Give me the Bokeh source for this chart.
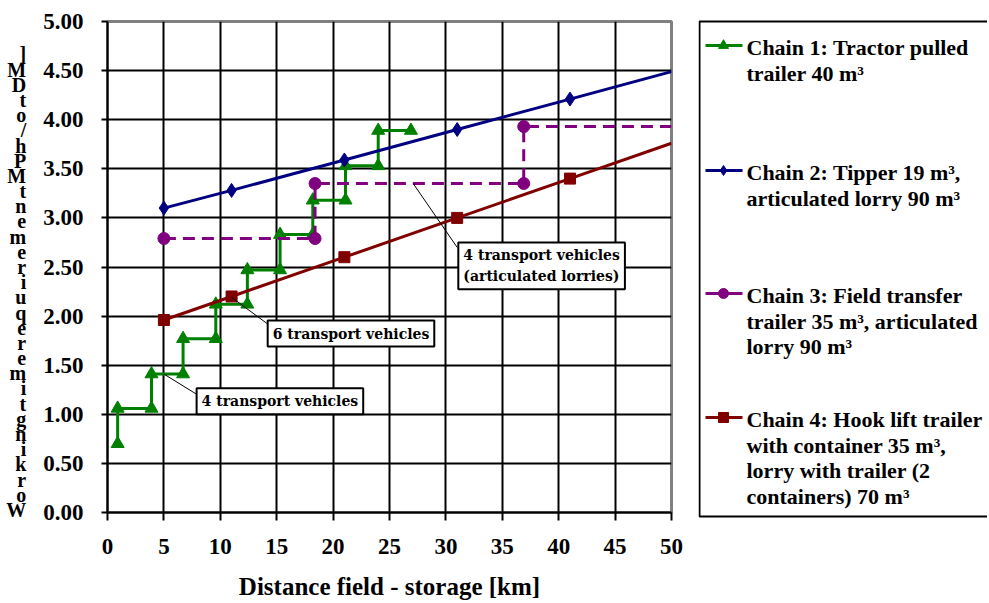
from bokeh.plotting import figure
from bokeh.models import Range1d, FixedTicker, Label, NumeralTickFormatter
from bokeh.layouts import row
from bokeh.embed import file_html
from bokeh.resources import INLINE

# ---- data ----
x_ticks = [0, 5, 10, 15, 20, 25, 30, 35, 40, 45, 50]
y_ticks = [0.0, 0.5, 1.0, 1.5, 2.0, 2.5, 3.0, 3.5, 4.0, 4.5, 5.0]

chain1_x = [0.9, 0.9, 3.9, 3.9, 6.7, 6.7, 9.6, 9.6, 12.4, 12.4, 15.3, 15.3,
            18.2, 18.2, 21.1, 21.1, 24.0, 24.0, 26.9]
chain1_y = [0.70, 1.06, 1.06, 1.41, 1.41, 1.77, 1.77, 2.12, 2.12, 2.47, 2.47,
            2.83, 2.83, 3.18, 3.18, 3.53, 3.53, 3.89, 3.89]

chain2_x = [5, 11, 21, 31, 41, 50]
chain2_y = [3.10, 3.28, 3.59, 3.90, 4.21, 4.49]
chain2_markers = 5

chain3_x = [5, 18.4, 18.4, 36.9, 36.9, 50]
chain3_y = [2.79, 2.79, 3.35, 3.35, 3.93, 3.93]
chain3_markers = 5

chain4_x = [5, 11, 21, 31, 41, 50]
chain4_y = [1.96, 2.20, 2.60, 3.00, 3.40, 3.76]
chain4_markers = 5

legend_labels = [
    ["Chain 1: Tractor pulled", "trailer 40 m³"],
    ["Chain 2: Tipper 19 m³,", "articulated lorry 90 m³"],
    ["Chain 3: Field transfer", "trailer 35 m³, articulated", "lorry 90 m³"],
    ["Chain 4: Hook lift trailer", "with container 35 m³,",
     "lorry with trailer (2", "containers) 70 m³"],
]
colors = ["#008000", "#000080", "#800080", "#800000"]
markers = ["triangle", "diamond", "circle", "square"]

notes = ["4 transport vehicles", "6 transport vehicles",
         "4 transport vehicles\n(articulated lorries)"]
note_box_x = [7.9, 14.2, 31.1]
note_box_y = [1.265, 1.955, 2.75]
leader_x0 = [5.0, 11.0, 27.1]
leader_y0 = [1.41, 2.19, 3.35]
leader_x1 = [8.1, 14.2, 31.0]
leader_y1 = [1.19, 1.92, 2.70]

x_title = "Distance field - storage [km]"
y_title_chars = [" ", " "] + list("]MDto/hPMtnemeriuqeremitgnikroW")

SERIF = "Liberation Serif"

# ---- main plot ----
p = figure(frame_width=564, frame_height=491, output_backend="svg",
           toolbar_location=None, x_range=Range1d(0, 50), y_range=Range1d(0, 5),
           min_border_left=107, min_border_right=27, min_border_top=21,
           min_border_bottom=90)
p.background_fill_color = "white"
p.border_fill_color = "white"
p.outline_line_color = "#808080"
p.outline_line_width = 3

p.xaxis.ticker = FixedTicker(ticks=x_ticks)
p.yaxis.ticker = FixedTicker(ticks=y_ticks)
p.yaxis.formatter = NumeralTickFormatter(format="0.00")
p.xgrid.ticker = FixedTicker(ticks=x_ticks[1:-1])
p.ygrid.ticker = FixedTicker(ticks=y_ticks[1:-1])
for g in (p.xgrid, p.ygrid):
    g.grid_line_color = "black"
    g.grid_line_width = 2

for ax in (p.xaxis, p.yaxis):
    ax.axis_line_color = "black"
    ax.axis_line_width = 2
    ax.major_tick_line_color = "black"
    ax.major_tick_line_width = 2
    ax.minor_tick_line_color = None
    ax.major_label_text_font = SERIF
    ax.major_label_text_font_style = "bold"
    ax.major_label_text_font_size = "23px"
    ax.major_label_text_color = "black"
    ax.axis_label_text_font = SERIF
    ax.axis_label_text_font_style = "bold"
    ax.axis_label_text_color = "black"

p.xaxis.major_tick_in = 0
p.xaxis.major_tick_out = 8
p.xaxis.major_label_standoff = 18
p.xaxis.axis_label = x_title
p.xaxis.axis_label_text_font_size = "25px"
p.xaxis.axis_label_standoff = 16

p.yaxis.major_tick_in = 0
p.yaxis.major_tick_out = 6
p.yaxis.major_label_standoff = 18
p.yaxis.axis_label = "\n".join(y_title_chars)
p.yaxis.axis_label_orientation = "horizontal"
p.yaxis.axis_label_text_font_size = "20px"
p.yaxis.axis_label_text_line_height = 0.69
p.yaxis.axis_label_standoff = 14

# series
p.line(chain1_x, chain1_y, line_color=colors[0], line_width=3)
p.scatter(chain1_x, chain1_y, marker="triangle", size=13,
          fill_color=colors[0], line_color=colors[0])

p.line(chain2_x, chain2_y, line_color=colors[1], line_width=3)
p.scatter(chain2_x[:chain2_markers], chain2_y[:chain2_markers], marker="diamond",
          size=14, fill_color=colors[1], line_color=colors[1])

p.line(chain3_x, chain3_y, line_color=colors[2], line_width=3, line_dash="12 7")
p.scatter(chain3_x[:chain3_markers], chain3_y[:chain3_markers], marker="circle",
          size=12, fill_color=colors[2], line_color=colors[2])

p.line(chain4_x, chain4_y, line_color=colors[3], line_width=3)
p.scatter(chain4_x[:chain4_markers], chain4_y[:chain4_markers], marker="square",
          size=11, fill_color=colors[3], line_color=colors[3])

# annotations
p.segment(leader_x0, leader_y0, leader_x1, leader_y1, line_color="black",
          line_width=1)
for txt, bx, by in zip(notes, note_box_x, note_box_y):
    p.add_layout(Label(x=bx, y=by, text=txt, anchor="top_left",
                       text_font="DejaVu Serif", text_font_style="bold",
                       text_font_size="14px",
                       text_color="black", text_line_height=1.3,
                       background_fill_color="white", border_line_color="black",
                       border_line_width=2, padding=5))

# ---- legend panel ----
lg = figure(width=289, height=601, output_backend="svg", toolbar_location=None,
            x_range=Range1d(0, 289), y_range=Range1d(601, 0),
            x_axis_type=None, y_axis_type=None, min_border=0)
lg.frame_align = False
lg.outline_line_color = None
lg.grid.grid_line_color = None
lg.background_fill_color = "white"
lg.border_fill_color = "white"
lg.line([289, 1, 1, 289], [21, 21, 516, 516], line_color="black", line_width=2)

entry_top = [45, 170, 293, 417]
line_step = 25.7
for lines, c, m, y0 in zip(legend_labels, colors, markers, entry_top):
    lg.line([7, 44], [y0, y0], line_color=c, line_width=3)
    lg.scatter([25], [y0], marker=m, size=10, fill_color=c, line_color=c)
    ys = [y0 + 2 + i * line_step for i in range(len(lines))]
    lg.text([48] * len(lines), ys, text=lines, text_font={"value": SERIF},
            text_font_style="bold", text_font_size="22px", text_color="black",
            text_baseline="middle", text_align="left")

layout = row(p, lg)
open("out.html", "w").write(file_html(layout, INLINE))
